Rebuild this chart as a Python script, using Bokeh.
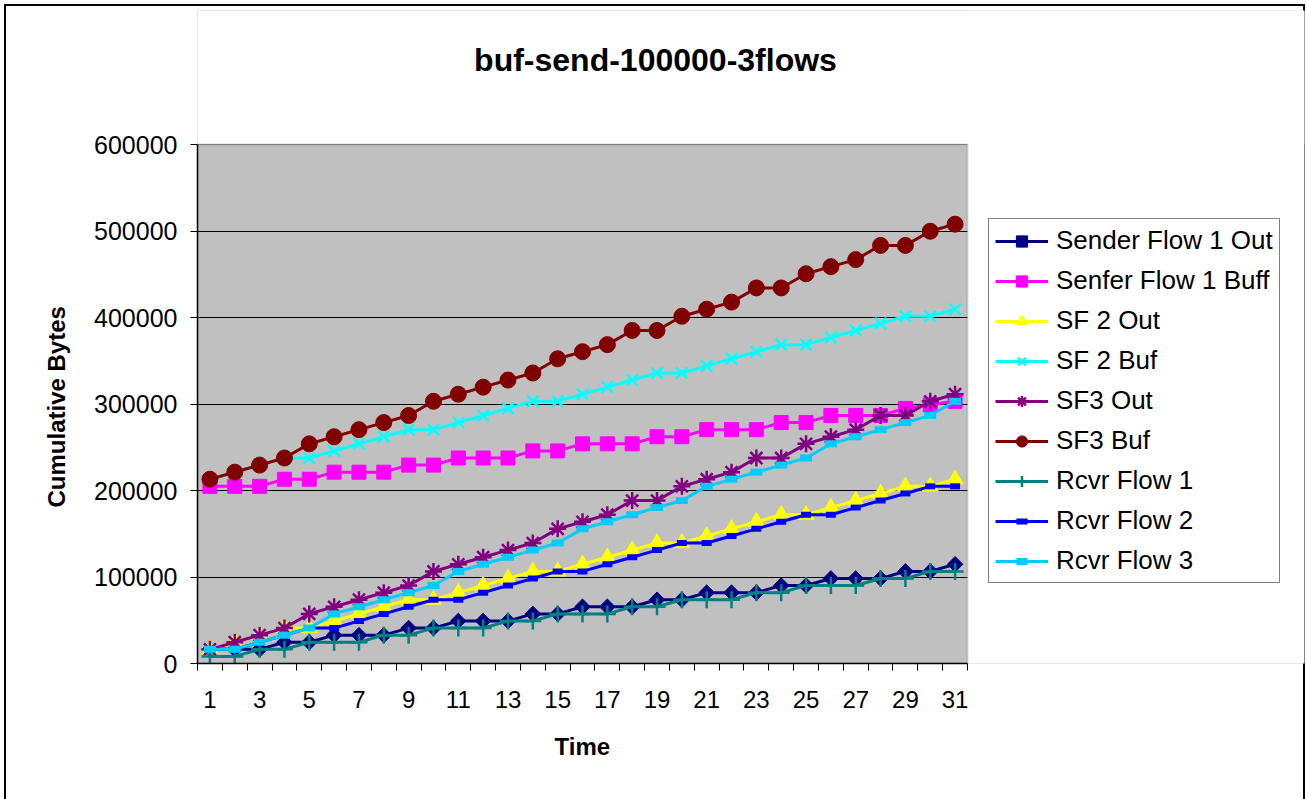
from bokeh.plotting import figure
from bokeh.models import (FixedTicker, Legend, LegendItem, Title, Label, BoxAnnotation,
                          BasicTickFormatter, Range1d, InlineStyleSheet)
from bokeh.embed import file_html
from bokeh.resources import INLINE

# ---------------- data ----------------
time = list(range(1, 32))
x_tick_labels = [1, 3, 5, 7, 9, 11, 13, 15, 17, 19, 21, 23, 25, 27, 29, 31]
y_ticks = [0, 100000, 200000, 300000, 400000, 500000, 600000]

sender_flow1_out = [16384, 16384, 16384, 24576, 24576, 32768, 32768, 32768, 40960, 40960,
                    49152, 49152, 49152, 57344, 57344, 65536, 65536, 65536, 73728, 73728,
                    81920, 81920, 81920, 90112, 90112, 98304, 98304, 98304, 106496, 106496,
                    114688]
senfer_flow1_buff = [204800, 204800, 204800, 212992, 212992, 221184, 221184, 221184, 229376, 229376,
                     237568, 237568, 237568, 245760, 245760, 253952, 253952, 253952, 262144, 262144,
                     270336, 270336, 270336, 278528, 278528, 286720, 286720, 286720, 294912, 299008,
                     303104]
sf2_out = [16384, 24576, 32768, 40960, 40960, 49152, 57344, 65536, 73728, 73728,
           81920, 90112, 98304, 106496, 106496, 114688, 122880, 131072, 139264, 139264,
           147456, 155648, 163840, 172032, 172032, 180224, 188416, 196608, 204800, 204800,
           212992]
sf2_buf = [212992, 221184, 229376, 237568, 237568, 245760, 253952, 262144, 270336, 270336,
           278528, 286720, 294912, 303104, 303104, 311296, 319488, 327680, 335872, 335872,
           344064, 352256, 360448, 368640, 368640, 376832, 385024, 393216, 401408, 401408,
           409600]
sf3_out = [16384, 24576, 32768, 40960, 57344, 65536, 73728, 81920, 90112, 106496,
           114688, 122880, 131072, 139264, 155648, 163840, 172032, 188416, 188416, 204800,
           212992, 221184, 237568, 237568, 253952, 262144, 270336, 286720, 286720, 303104,
           311296]
sf3_buf = [212992, 221184, 229376, 237568, 253952, 262144, 270336, 278528, 286720, 303104,
           311296, 319488, 327680, 335872, 352256, 360448, 368640, 385024, 385024, 401408,
           409600, 417792, 434176, 434176, 450560, 458752, 466944, 483328, 483328, 499712,
           507904]
rcvr_flow1 = [8192, 8192, 16384, 16384, 24576, 24576, 24576, 32768, 32768, 40960,
              40960, 40960, 49152, 49152, 57344, 57344, 57344, 65536, 65536, 73728,
              73728, 73728, 81920, 81920, 90112, 90112, 90112, 98304, 98304, 106496,
              106496]
rcvr_flow2 = [16384, 16384, 24576, 32768, 40960, 40960, 49152, 57344, 65536, 73728,
              73728, 81920, 90112, 98304, 106496, 106496, 114688, 122880, 131072, 139264,
              139264, 147456, 155648, 163840, 172032, 172032, 180224, 188416, 196608, 204800,
              204800]
rcvr_flow3 = [16384, 16384, 24576, 32768, 40960, 57344, 65536, 73728, 81920, 90112,
              106496, 114688, 122880, 131072, 139264, 155648, 163840, 172032, 180224, 188416,
              204800, 212992, 221184, 229376, 237568, 253952, 262144, 270336, 278528, 286720,
              303104]

series_names = ["Sender Flow 1 Out", "Senfer Flow 1 Buff", "SF 2 Out", "SF 2 Buf",
                "SF3 Out", "SF3 Buf", "Rcvr Flow 1", "Rcvr Flow 2", "Rcvr Flow 3"]
series_values = [sender_flow1_out, senfer_flow1_buff, sf2_out, sf2_buf,
                 sf3_out, sf3_buf, rcvr_flow1, rcvr_flow2, rcvr_flow3]

# styles: (color, marker, size, marker line width, angle, filled)
styles = [
    ("#000080", "square", 11, 1, 0.7854, True),
    ("#FF00FF", "square", 14, 1, 0, True),
    ("#FFFF00", "triangle", 16, 1, 0, True),
    ("#00FFFF", "x", 16, 2.5, 0, False),
    ("#800080", "asterisk", 17, 2.5, 0, False),
    ("#800000", "circle", 16, 1, 0, True),
    ("#008080", "cross", 17, 2.5, 0, False),
    ("#0000FF", "dash", 10, 6, 0, False),
    ("#00CCFF", "dash", 12, 7, 0, False),
]

FONT = "Liberation Sans"

# canvas geometry: the plot area is 770 x 519 px at (197, 144); the frame is
# extended to the right and to the top so that legend and title (drawn inside
# the frame) are not clipped; the extra frame area is painted white.
W, H = 1307, 799
BORDER_L, BORDER_R, BORDER_T, BORDER_B = 197, 3, 10, 136
PLOT_W, PLOT_H = 770, 519
x_start, x_last = 0.5, len(time) + 0.5
y_top = y_ticks[-1]
frame_w = W - BORDER_L - BORDER_R
frame_h = H - BORDER_T - BORDER_B
x_end = x_start + (x_last - x_start) * frame_w / PLOT_W
y_end = y_top * frame_h / PLOT_H

p = figure(width=W, height=H, output_backend="svg", toolbar_location=None,
           x_range=Range1d(x_start, x_end), y_range=Range1d(0, y_end),
           min_border_left=BORDER_L, min_border_right=BORDER_R,
           min_border_top=BORDER_T, min_border_bottom=BORDER_B)
# thin black frame round the whole chart (left, top, right)
p.stylesheets = [InlineStyleSheet(css=(
    ":host { background: white; box-shadow: "
    "inset 4px 4px 0 0 white, inset -2px 0 0 0 white, "
    "inset 6px 6px 0 0 black, inset -4px 0 0 0 black; }"))]

p.background_fill_color = "#C0C0C0"
p.border_fill_color = None
p.outline_line_color = None

# grid
p.xgrid.grid_line_color = None
p.ygrid.grid_line_color = "black"
p.ygrid.grid_line_width = 1
p.ygrid.ticker = FixedTicker(ticks=y_ticks)

# white paper outside the plot area (inside the extended frame)
p.add_layout(BoxAnnotation(bottom=y_top, fill_color="white", fill_alpha=1,
                           line_color=None, level="underlay"))
p.add_layout(BoxAnnotation(left=x_last, fill_color="white", fill_alpha=1,
                           line_color=None, level="underlay"))
# grey plot-area border
p.add_layout(BoxAnnotation(left=x_start, right=x_last, bottom=0, top=y_top,
                           fill_alpha=0, line_color="#808080", line_width=2,
                           level="underlay"))

# x axis
xa = p.xaxis[0]
xa.bounds = (x_start, x_last)
xa.ticker = FixedTicker(ticks=x_tick_labels, minor_ticks=[t - 0.5 for t in time] + [x_last])
xa.major_tick_out = 0
xa.major_tick_in = 0
xa.minor_tick_out = 7
xa.minor_tick_in = 0
xa.minor_tick_line_color = "black"
xa.axis_line_color = "black"
xa.axis_line_width = 1.5
xa.major_label_text_font = FONT
xa.major_label_text_font_size = "24px"
xa.major_label_text_color = "black"
xa.major_label_standoff = 20
xa.axis_label = ""

# y axis
ya = p.yaxis[0]
ya.bounds = (0, y_top)
ya.ticker = FixedTicker(ticks=y_ticks)
ya.formatter = BasicTickFormatter(use_scientific=False)
ya.major_tick_out = 7
ya.major_tick_in = 0
ya.minor_tick_line_color = None
ya.major_tick_line_color = "black"
ya.axis_line_color = "black"
ya.axis_line_width = 1.5
ya.major_label_text_font = FONT
ya.major_label_text_font_size = "25px"
ya.major_label_text_color = "black"
ya.major_label_standoff = 13
ya.axis_label = ""

items = []
for name, vals, (color, marker, size, mlw, angle, filled) in zip(series_names, series_values, styles):
    ln = p.line(time, vals, line_color=color, line_width=3)
    fill = color if filled else None
    sc = p.scatter(time, vals, marker=marker, size=size, angle=angle,
                   fill_color=fill, line_color=color, line_width=mlw)
    items.append(LegendItem(label=name, renderers=[ln, sc]))

# axis titles (panels below / left of the frame)
p.add_layout(Title(text="Time", align="left", offset=357, standoff=40,
                   text_font=FONT, text_font_size="24px", text_font_style="bold",
                   text_color="black"), "below")
p.add_layout(Title(text="Cumulative Bytes", align="left", offset=156, standoff=43,
                   text_font=FONT, text_font_size="24px", text_font_style="bold",
                   text_color="black"), "left")

legend = Legend(items=items, location=(791, 80))
legend.border_line_color = "black"
legend.border_line_width = 1
legend.background_fill_color = "white"
legend.background_fill_alpha = 1
legend.label_text_font = FONT
legend.label_text_font_size = "26px"
legend.label_text_color = "black"
legend.glyph_width = 53
legend.glyph_height = 28
legend.label_height = 28
legend.spacing = 9
legend.padding = 6
legend.label_standoff = 8
legend.margin = 0
p.add_layout(legend)

p.add_layout(Label(x=458, y=604, x_units="screen", y_units="screen",
                   text="buf-send-100000-3flows", text_align="center",
                   text_baseline="middle", text_font=FONT, text_font_size="32px",
                   text_font_style="bold", text_color="black"))

open("out.html", "w").write(file_html(p, INLINE))
